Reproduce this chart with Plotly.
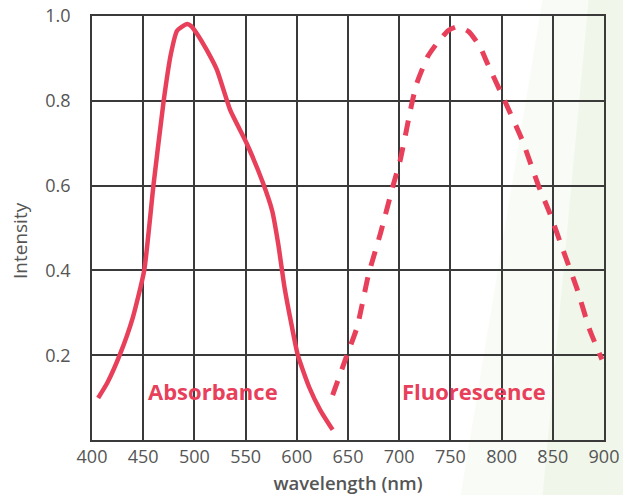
import plotly.graph_objects as go

# Absorbance (solid)
abs_wl = [406, 415, 427, 440, 451, 460, 470, 477, 483, 488, 493, 497, 502, 512, 522, 535, 551, 567, 576, 582, 588, 595, 601, 612, 623, 635]
abs_int = [0.099, 0.135, 0.2, 0.29, 0.4, 0.6, 0.8, 0.91, 0.965, 0.975, 0.981, 0.976, 0.96, 0.92, 0.873, 0.778, 0.70, 0.606, 0.54, 0.46, 0.36, 0.27, 0.2, 0.125, 0.07, 0.024]

# Fluorescence (dashed)
flu_wl = [635, 649, 659, 670, 682, 694, 701, 712, 717, 728, 737, 748, 757, 768, 779, 786, 803, 820, 836, 847, 860, 874, 886, 898]
flu_int = [0.106, 0.2, 0.267, 0.39, 0.49, 0.6, 0.66, 0.79, 0.84, 0.905, 0.936, 0.966, 0.975, 0.963, 0.927, 0.889, 0.8, 0.708, 0.6, 0.535, 0.448, 0.354, 0.26, 0.19]

x_ticks = [400, 450, 500, 550, 600, 650, 700, 750, 800, 850, 900]
y_ticks = [0.2, 0.4, 0.6, 0.8, 1.0]
y_labels = ["0.2", "0.4", "0.6", "0.8", "1.0"]

RED = "#E8405A"
GRID = "#3a3a3a"
TXT = "#555555"

fig = go.Figure()
fig.add_trace(go.Scatter(x=abs_wl, y=abs_int, mode="lines",
                         line=dict(color=RED, width=4.5, shape="spline", smoothing=0.5),
                         name="Absorbance", showlegend=False))
fig.add_trace(go.Scatter(x=flu_wl, y=flu_int, mode="lines",
                         line=dict(color=RED, width=5, shape="spline", smoothing=0.5, dash="15px,12px"),
                         name="Fluorescence", showlegend=False))

fig.add_annotation(x=400 + (213 - 92) / 1.024, y=0.115, text="<b>Absorbance</b>", showarrow=False,
                   font=dict(family="Open Sans", size=22, color=RED), xref="x", yref="y")
fig.add_annotation(x=400 + (474 - 92) / 1.024, y=0.115, text="<b>Fluorescence</b>", showarrow=False,
                   font=dict(family="Open Sans", size=22, color=RED), xref="x", yref="y")
# y-axis title placed to match reference position
fig.add_annotation(x=(20 - 92) / 512, y=(440 - 241) / 424, xref="paper", yref="paper",
                   xanchor="center", yanchor="middle",
                   text="Intensity", textangle=-90, showarrow=False,
                   font=dict(family="Open Sans", size=19, color=TXT))

# very subtle green background streaks on the right
fig.add_shape(type="path", xref="paper", yref="paper",
              path="M 0.88 1.04 L 1.05 1.04 L 1.05 -0.13 L 0.72 -0.13 Z",
              fillcolor="rgba(200,225,170,0.10)", line=dict(width=0), layer="below")
fig.add_shape(type="path", xref="paper", yref="paper",
              path="M 0.97 1.04 L 1.05 1.04 L 1.05 -0.13 L 0.88 -0.13 Z",
              fillcolor="rgba(190,220,160,0.14)", line=dict(width=0), layer="below")

fig.update_layout(
    width=623, height=495,
    margin=dict(l=92, r=19, t=16, b=55),
    paper_bgcolor="white", plot_bgcolor="rgba(0,0,0,0)",
    font=dict(family="Open Sans", color=TXT),
    xaxis=dict(range=[400, 900], tickvals=x_ticks, showgrid=True, gridcolor=GRID, gridwidth=1.5,
               zeroline=False, showline=True, linecolor=GRID, linewidth=1.5, mirror=True,
               ticks="", tickfont=dict(size=18, color=TXT), automargin=False,
               title=dict(text="wavelength (nm)", font=dict(size=18.5, color=TXT, weight=600), standoff=10)),
    yaxis=dict(range=[0, 1.0], tickvals=y_ticks, ticktext=y_labels, showgrid=True, gridcolor=GRID, gridwidth=1.5,
               zeroline=False, showline=True, linecolor=GRID, linewidth=1.5, mirror=True,
               ticks="", ticklabelstandoff=16, tickfont=dict(size=18, color=TXT), automargin=False),
)

fig.write_html("out.html")
